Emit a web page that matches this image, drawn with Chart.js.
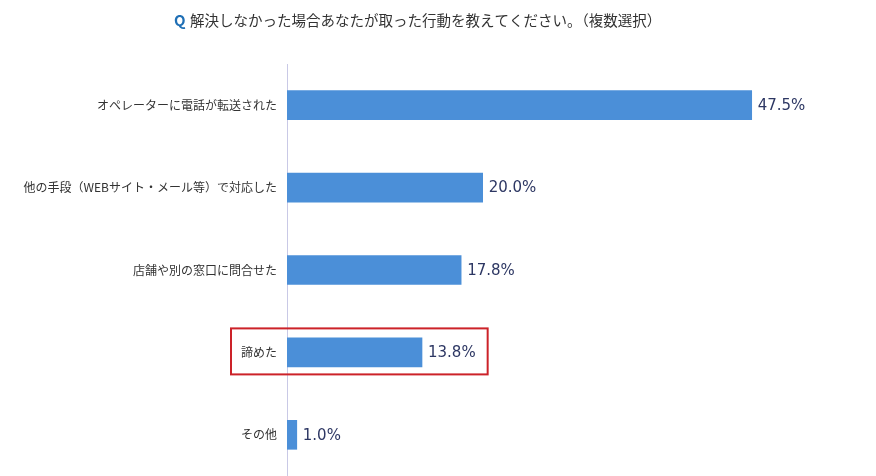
<!DOCTYPE html>
<html><head><meta charset="utf-8">
<script src="https://cdn.jsdelivr.net/npm/chart.js@4"></script>
<style>html,body{margin:0;padding:0;background:#fff;overflow:hidden;}#wrap{width:876px;height:476px;}</style>
</head><body><div id="wrap"><canvas id="c" width="876" height="476"></canvas></div>
<script>
const titleQ = 'Q';
const titleText = '解決しなかった場合あなたが取った行動を教えてください。（複数選択）';
const categories = ['オペレーターに電話が転送された','他の手段（WEBサイト・メール等）で対応した','店舗や別の窓口に問合せた','諦めた','その他'];
const values = [47.5, 20.0, 17.8, 13.8, 1.0];
const highlightIndex = 3;

const jpFont = '"Noto Sans CJK JP", "Noto Sans", sans-serif';
const numFont = '"DejaVu Sans", "Noto Sans", sans-serif';

const overlay = {
  id: 'overlay',
  afterDatasetsDraw(chart) {
    const ctx = chart.ctx;
    const meta = chart.getDatasetMeta(0);
    ctx.save();
    // value labels
    ctx.font = '15px ' + numFont;
    ctx.fillStyle = '#2d3763';
    ctx.textAlign = 'left';
    ctx.textBaseline = 'middle';
    meta.data.forEach((bar, i) => {
      ctx.fillText(values[i].toFixed(1) + '%', bar.x + 6, bar.y + 1);
    });
    // highlight box
    const hb = meta.data[highlightIndex];
    const tw = ctx.measureText(values[highlightIndex].toFixed(1) + '%').width;
    ctx.strokeStyle = '#cc2229';
    ctx.lineWidth = 2;
    ctx.strokeRect(231, hb.y - 24, hb.x + 6 + tw + 12 - 231, 46);
    // title
    ctx.textBaseline = 'middle';
    ctx.font = 'bold 15px ' + jpFont;
    ctx.fillStyle = '#1f6fb5';
    ctx.fillText(titleQ, 174, 20);
    ctx.font = '14.5px ' + jpFont;
    ctx.fillStyle = '#333';
    ctx.fillText(titleText, 190, 20);
    ctx.restore();
  }
};

new Chart(document.getElementById('c'), {
  type: 'bar',
  data: {
    labels: categories,
    datasets: [{
      data: values,
      backgroundColor: '#4b8fd8',
      barThickness: 29
    }]
  },
  options: {
    indexAxis: 'y',
    responsive: false,
    animation: false,
    layout: { padding: { top: 64, right: 2, bottom: 0, left: 0 } },
    plugins: { legend: { display: false }, tooltip: { enabled: false }, title: { display: false } },
    scales: {
      x: { display: false, min: 0, max: 60 },
      y: {
        grid: { display: false, drawTicks: false },
        border: { display: true, color: '#c9c9e6', width: 1 },
        ticks: { color: '#333', font: { family: jpFont, size: 12 }, padding: 10 },
        afterFit(scale) { scale.width = 287; scale.paddingTop = 0; scale.paddingBottom = 0; }
      }
    }
  },
  plugins: [overlay]
});
</script>
</body></html>
